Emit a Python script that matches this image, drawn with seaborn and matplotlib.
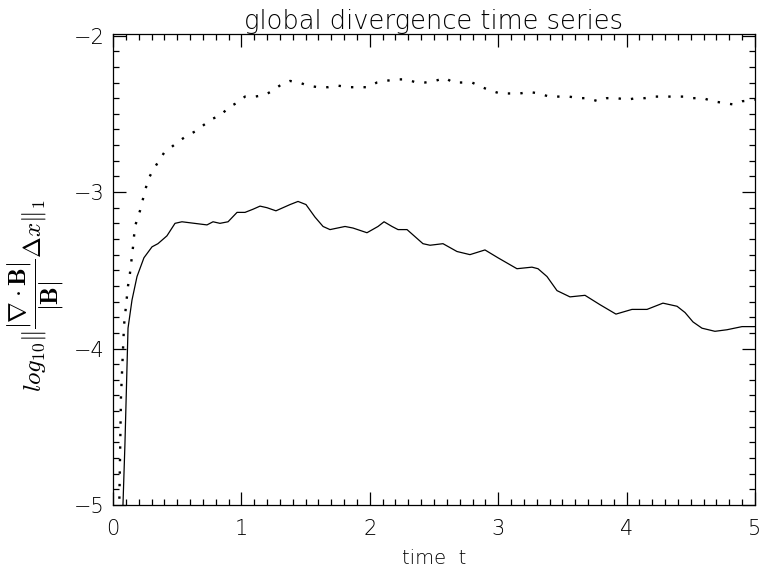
import numpy as np
import pandas as pd
import matplotlib
matplotlib.use("Agg")
import matplotlib.pyplot as plt
from matplotlib.ticker import MultipleLocator
import seaborn as sns

# ---- data ----
t_solid = [0.070, 0.078, 0.093, 0.117, 0.148, 0.187, 0.241, 0.304, 0.350, 0.420, 0.483,
           0.537, 0.732, 0.779, 0.833, 0.896, 0.966, 1.028, 1.090, 1.145, 1.199, 1.269,
           1.379, 1.441, 1.503, 1.573, 1.636, 1.690, 1.807, 1.869, 1.978, 2.064, 2.111,
           2.173, 2.220, 2.290, 2.414, 2.469, 2.570, 2.679, 2.780, 2.897, 2.998, 3.146,
           3.263, 3.310, 3.380, 3.458, 3.559, 3.676, 3.793, 3.917, 4.042, 4.159, 4.283,
           4.338, 4.393, 4.455, 4.517, 4.587, 4.688, 4.782, 4.899, 5.000]
div_solid = [-5.30, -4.99, -4.61, -3.87, -3.69, -3.54, -3.42, -3.35, -3.33, -3.28, -3.20,
             -3.19, -3.21, -3.19, -3.20, -3.19, -3.13, -3.13, -3.11, -3.09, -3.10, -3.12,
             -3.08, -3.06, -3.08, -3.16, -3.22, -3.24, -3.22, -3.23, -3.26, -3.22, -3.19,
             -3.22, -3.24, -3.24, -3.33, -3.34, -3.33, -3.38, -3.40, -3.37, -3.42, -3.49,
             -3.48, -3.49, -3.54, -3.63, -3.67, -3.66, -3.72, -3.78, -3.75, -3.75, -3.71,
             -3.72, -3.73, -3.77, -3.83, -3.87, -3.89, -3.88, -3.86, -3.86]

t_dotted = [0.045, 0.062, 0.086, 0.117, 0.132, 0.156, 0.171, 0.210, 0.241, 0.273, 0.312,
            0.350, 0.397, 0.459, 0.522, 0.576, 0.646, 0.709, 0.779, 0.841, 0.896, 0.966,
            1.028, 1.106, 1.184, 1.246, 1.316, 1.379, 1.449, 1.519, 1.597, 1.674, 1.752,
            1.830, 1.908, 1.978, 2.056, 2.118, 2.212, 2.290, 2.360, 2.430, 2.508, 2.586,
            2.648, 2.726, 2.796, 2.874, 2.936, 3.014, 3.092, 3.170, 3.240, 3.318, 3.396,
            3.474, 3.551, 3.629, 3.699, 3.777, 3.847, 3.925, 4.003, 4.073, 4.143, 4.221,
            4.299, 4.377, 4.447, 4.517, 4.595, 4.673, 4.751, 4.829, 4.899, 5.000]
div_dotted = [-5.20, -4.31, -3.85, -3.60, -3.52, -3.35, -3.22, -3.12, -3.02, -2.92, -2.86,
              -2.81, -2.75, -2.71, -2.67, -2.64, -2.61, -2.57, -2.53, -2.51, -2.46, -2.43,
              -2.39, -2.39, -2.38, -2.35, -2.31, -2.29, -2.30, -2.32, -2.33, -2.33, -2.32,
              -2.33, -2.33, -2.33, -2.30, -2.29, -2.28, -2.28, -2.30, -2.30, -2.29, -2.27,
              -2.30, -2.30, -2.30, -2.33, -2.35, -2.37, -2.37, -2.37, -2.36, -2.37, -2.39,
              -2.39, -2.39, -2.40, -2.40, -2.42, -2.40, -2.40, -2.41, -2.40, -2.40, -2.39,
              -2.39, -2.39, -2.39, -2.40, -2.40, -2.42, -2.43, -2.44, -2.42, -2.41]

x_ticks = [0, 1, 2, 3, 4, 5]
y_ticks = [-5, -4, -3, -2]

title = "global divergence time series"
xlabel = "time  t"
ylabel = r"$log_{10}\|\dfrac{|\nabla\cdot\mathbf{B}|}{|\mathbf{B}|}\Delta x\|_1$"

# ---- style ----
sns.set_style("ticks")
plt.rcParams["font.family"] = ["DejaVu Sans"]
plt.rcParams["font.weight"] = "light"
plt.rcParams["mathtext.fontset"] = "cm"
plt.rcParams["axes.unicode_minus"] = True

fig = plt.figure(figsize=(7.61, 5.72), dpi=100)
ax = fig.add_axes([113 / 761, 1 - 505 / 572, 642 / 761, 471 / 572])

df_s = pd.DataFrame({"t": t_solid, "v": div_solid})
df_d = pd.DataFrame({"t": t_dotted, "v": div_dotted})

sns.lineplot(data=df_s, x="t", y="v", ax=ax, color="black", linewidth=0.9,
             sort=False, estimator=None)
sns.lineplot(data=df_d, x="t", y="v", ax=ax, color="black", linewidth=1.7,
             linestyle=(0, (1, 4.3)), sort=False, estimator=None)

ax.set_xlim(0, 5)
ax.set_ylim(-5.0, -1.99)
ax.set_xticks(x_ticks)
ax.set_yticks(y_ticks)
ax.xaxis.set_minor_locator(MultipleLocator(0.1))
ax.yaxis.set_minor_locator(MultipleLocator(0.1))
ax.tick_params(which="both", direction="in", top=True, right=True, color="black",
               width=0.9, labelsize=15, labelcolor="black")
ax.tick_params(which="major", length=9.5)
ax.tick_params(which="minor", length=4.5)
ax.tick_params(axis="x", pad=10)
ax.tick_params(axis="y", pad=6)
for lab in ax.get_xticklabels() + ax.get_yticklabels():
    lab.set_fontweight("light")
for s in ax.spines.values():
    s.set_visible(True)
    s.set_linewidth(0.9)
    s.set_color("black")

ax.set_title(title, fontsize=18.5, color="black", pad=1, fontweight="light")
ax.set_xlabel(xlabel, fontsize=14, color="black", labelpad=7, fontweight="light")
ax.set_ylabel(ylabel, fontsize=18, color="black")
ax.yaxis.set_label_coords(-0.073, 0.445)

fig.savefig("out.png", dpi=100)
